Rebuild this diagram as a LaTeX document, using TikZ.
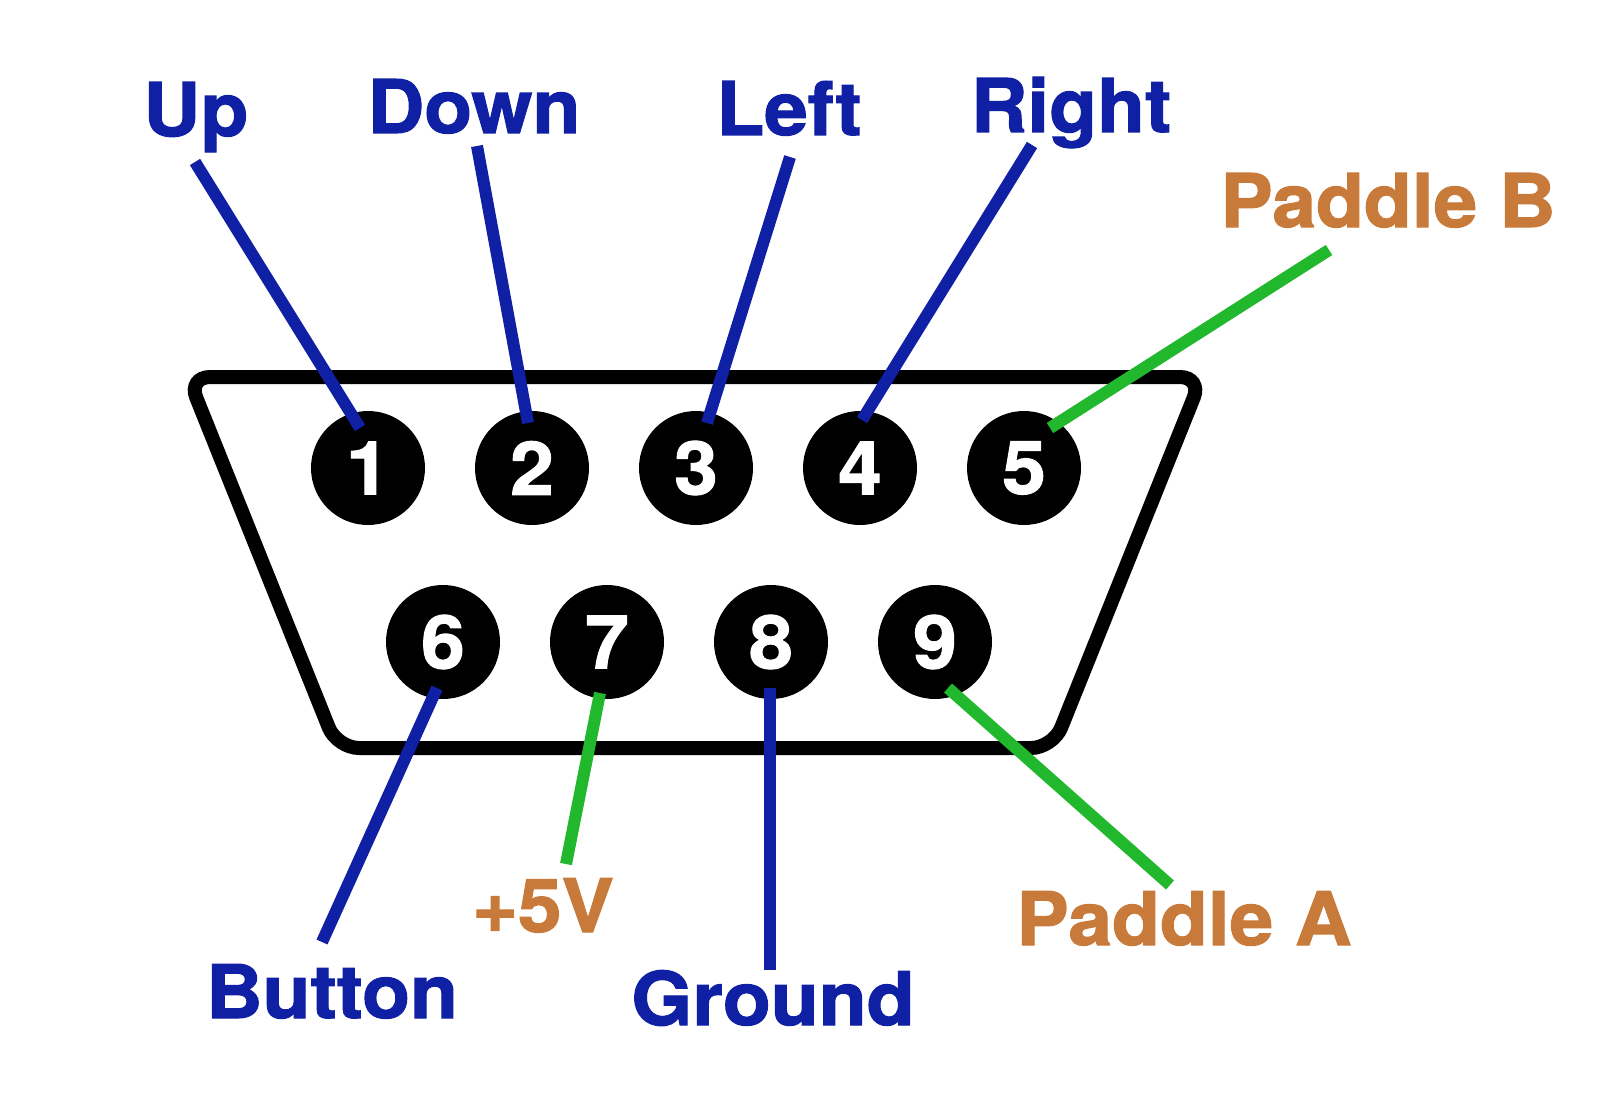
\documentclass[tikz,border=0pt]{standalone}
\usepackage{fontspec}
\setmainfont{TeX Gyre Heros}
\newfontfamily\pinfont{TeX Gyre Heros}[FakeStretch=1.06,FakeBold=1.5]
\newcommand\pinsize{\fontsize{74pt}{80pt}\selectfont}
\definecolor{wireblue}{RGB}{16,32,165}
\definecolor{wiregreen}{RGB}{34,184,46}
\definecolor{padbrown}{RGB}{200,122,58}
\usetikzlibrary{calc}

\begin{document}
\begin{tikzpicture}
        [x=1pt,y=-1pt,node distance=164pt,line width=12pt,
        pin node/.style={circle,fill=black,text=white,minimum size=114pt,inner sep=0pt,font=\pinfont\bfseries\pinsize},
        blue label/.style={text=wireblue,inner sep=0pt,anchor=base,font=\pinfont\bfseries\pinsize},
        brown label/.style={text=padbrown,inner sep=0pt,anchor=base,font=\pinfont\bfseries\pinsize},
        blue wire/.style={draw=wireblue},
        green wire/.style={draw=wiregreen}]
    
    \useasboundingbox (0,0) rectangle (1600,1118);
    
    % connector shell
    \draw[line width=14pt,rounded corners=22pt] (188,377) -- (1202,377) -- (1053,748) -- (337,748) -- cycle;
    
    \node[pin node] (1) at (368,468) {1};
    \node[pin node] (2) [right of=1] {2};
    \node[pin node] (3) [right of=2] {3};
    \node[pin node] (4) [right of=3] {4};
    \node[pin node] (5) [right of=4] {5};
    \node[pin node] (6) at (443,642) {6};
    \node[pin node] (7) [right of=6] {7};
    \node[pin node] (8) [right of=7] {8};
    \node[pin node] (9) [right of=8] {9};
    
    \node[blue label] (up) at (196,136) {Up};
    \node[blue label] (down) at (474,133) {Down};
    \node[blue label] (left) at (789,135) {Left};
    \node[blue label] (right) at (1071,132) {Right};
    \node[brown label] (paddleb) at (1388,227) {Paddle B};
    \node[blue label] (button) at (332,1018) {Button};
    \node[brown label] (plus5v) at (543,932) {+5V};
    \node[blue label] (ground) at (773,1025) {Ground};
    \node[brown label] (paddlea) at (1184,945) {Paddle A};
    
    \coordinate (up end) at (195,162);
    \coordinate (down end) at (477,146);
    \coordinate (left end) at (790,157);
    \coordinate (right end) at (1032,145);
    \coordinate (paddleb end) at (1329,250);
    \coordinate (button end) at (322,942);
    \coordinate (plus5v end) at (566,864);
    \coordinate (ground end) at (770,970);
    \coordinate (paddlea end) at (1170,885);
    
    % wires stop a bit inside the pins
    \draw[blue wire] (up end) -- ($(1.center)+(-8,-40)$);
    \draw[blue wire] (down end) -- ($(2.center)+(-4,-45)$);
    \draw[blue wire] (left end) -- ($(3.center)+(11,-45)$);
    \draw[blue wire] (right end) -- ($(4.center)+(2,-48)$);
    \draw[green wire] (paddleb end) -- ($(5.center)+(26,-40)$);
    \draw[blue wire] (button end) -- ($(6.center)+(-6,46)$);
    \draw[green wire] (plus5v end) -- ($(7.center)+(-7,51)$);
    \draw[blue wire] (ground end) -- ($(8.center)+(-1,46)$);
    \draw[green wire] (paddlea end) -- ($(9.center)+(13,46)$);
    
\end{tikzpicture}
\end{document}
